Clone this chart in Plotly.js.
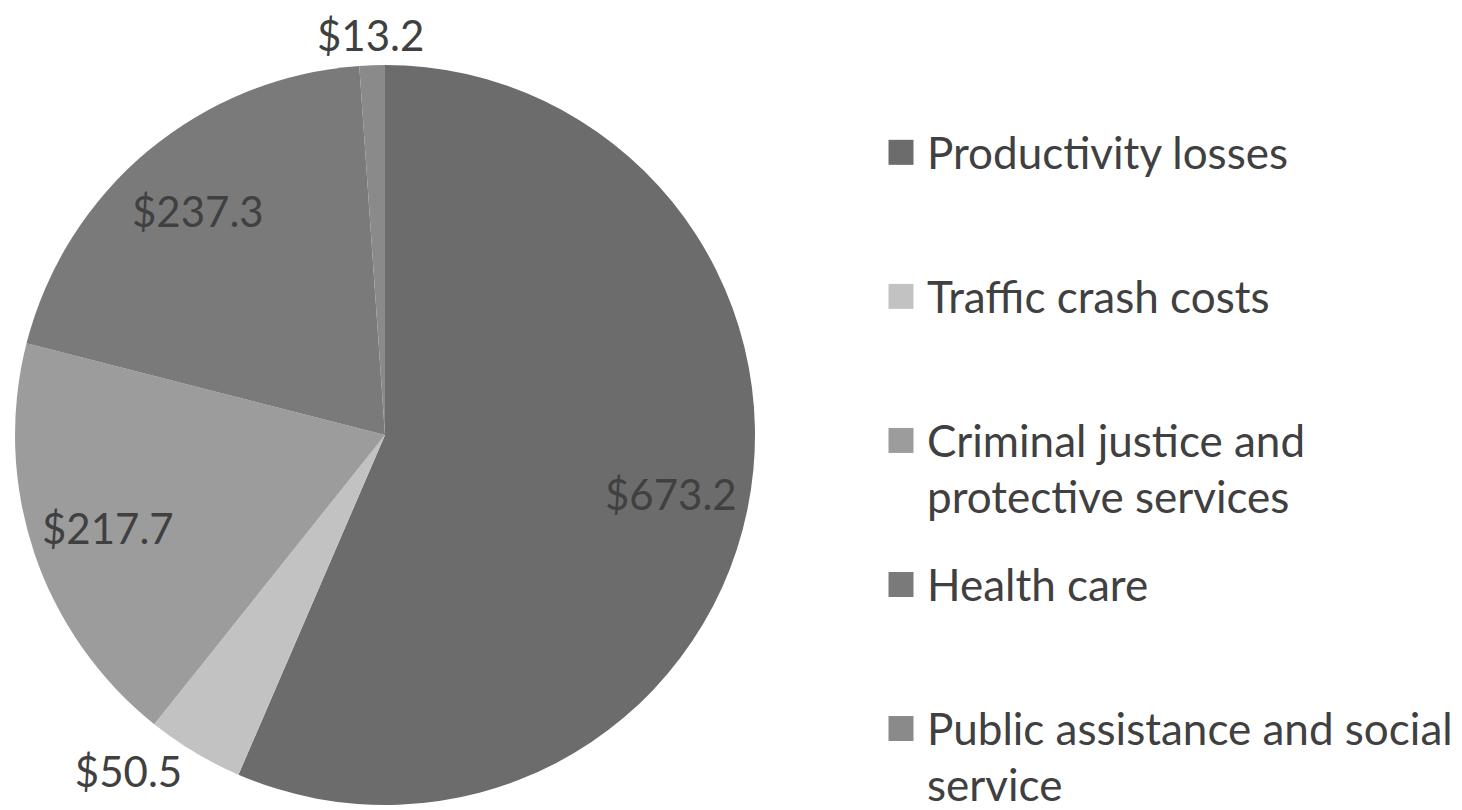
<!DOCTYPE html>
<html><head><meta charset="utf-8">
<script src="https://cdn.plot.ly/plotly-3.0.1.min.js"></script>
<style>html,body{margin:0;padding:0;background:#fff;}#chart{width:1462px;height:810px;}</style>
</head><body><div id="chart"></div>
<script>
// ---- data ----
const categories = ["Productivity losses", "Traffic crash costs", "Criminal justice and<br>protective services", "Health care", "Public assistance and social<br>service"];
const costs = [673.2, 50.5, 217.7, 237.3, 13.2];
const sliceColors = ["#6c6c6c", "#c2c2c2", "#9c9c9c", "#7a7a7a", "#8a8a8a"];
// label placement: "in" = inside slice, "out" = outside edge, "native" = Plotly outside text
const labelModes = ["in", "native", "in", "in", "out"];

// ---- layout constants ----
const W = 1462, H = 810;
const PIE_CX = 385, PIE_CY = 435, PIE_R = 370;
const FONT = "Lato, 'Noto Sans', sans-serif";
const TEXT_COLOR = "#404040";
const LABEL_SIZE = 42;
const LEGEND_TEXT_SIZE = 44;
const LEGEND_LINE_SIZE = 21.7;   // nominal line height base for legend spacing
const LINES_PER_ENTRY = 5;

const fmt = v => "$" + v.toFixed(1);

// legend labels: visible text in a larger span, padded with blank lines for spacing
const legendLabels = categories.map((c, idx) => {
  const parts = c.split("<br>").map(p => '<span style="font-size:' + LEGEND_TEXT_SIZE + 'px">' + p + '</span>');
  let s = parts.join("<br> <br>");
  let n = parts.length * 2 - 1;
  if (idx < categories.length - 1) {
    while (n < LINES_PER_ENTRY) { s += "<br> "; n++; }
  }
  return s;
});

const trace = {
  type: "pie",
  labels: legendLabels,
  values: costs,
  sort: false,
  direction: "clockwise",
  rotation: 0,
  marker: {colors: sliceColors, line: {width: 0}},
  texttemplate: "$%{value:.1f}",
  textposition: labelModes.map(m => m === "native" ? "outside" : "none"),
  textfont: {family: FONT, size: LABEL_SIZE, color: TEXT_COLOR},
  outsidetextfont: {family: FONT, size: LABEL_SIZE, color: TEXT_COLOR},
  hoverinfo: "none",
  domain: {x: [(PIE_CX - PIE_R) / W, (PIE_CX + PIE_R) / W], y: [1 - (PIE_CY + PIE_R) / H, 1 - (PIE_CY - PIE_R) / H]},
  automargin: false
};

// data labels placed along each slice's mid-angle (computed from the values)
const total = costs.reduce((a, b) => a + b, 0);
const annotations = [];
let cum = 0;
costs.forEach((v, i) => {
  const mid = (cum + v / 2) / total * 2 * Math.PI;
  cum += v;
  const dx = Math.sin(mid), dy = -Math.cos(mid);
  let px, py;
  if (labelModes[i] === "in") {
    px = PIE_CX + 0.79 * PIE_R * dx;
    py = PIE_CY + 0.79 * PIE_R * dy;
  } else if (labelModes[i] === "out") {
    const halfW = 52, halfH = 22, gap = 8;
    px = PIE_CX + (PIE_R + gap) * dx + dx * halfW;
    py = PIE_CY + (PIE_R + gap) * dy + dy * halfH;
  } else return;
  annotations.push({
    xref: "paper", yref: "paper", x: px / W, y: 1 - py / H,
    xanchor: "center", yanchor: "middle", showarrow: false,
    text: fmt(v), font: {family: FONT, size: LABEL_SIZE, color: TEXT_COLOR}
  });
});

const layout = {
  width: W, height: H,
  margin: {l: 0, r: 0, t: 0, b: 0, autoexpand: false},
  paper_bgcolor: "#ffffff",
  showlegend: true,
  annotations: annotations,
  legend: {
    x: 0.6067, y: 0.8275, xanchor: "left", yanchor: "top",
    font: {family: FONT, size: LEGEND_LINE_SIZE, color: TEXT_COLOR},
    valign: "top",
    bgcolor: "rgba(0,0,0,0)"
  }
};

Plotly.newPlot("chart", [trace], layout, {displayModeBar: false, staticPlot: true}).then(() => {
  document.querySelectorAll("#chart .legendpoints path").forEach(p => {
    p.setAttribute("d", "M12.5,12.5H-12.5V-12.5H12.5Z");
    p.setAttribute("transform", "translate(14,-8)");
  });
  document.querySelectorAll("#chart .legend [clip-path]").forEach(el => el.removeAttribute("clip-path"));
  document.querySelectorAll("#chart .legend .scrollbar").forEach(el => el.remove());
});
</script></body></html>
